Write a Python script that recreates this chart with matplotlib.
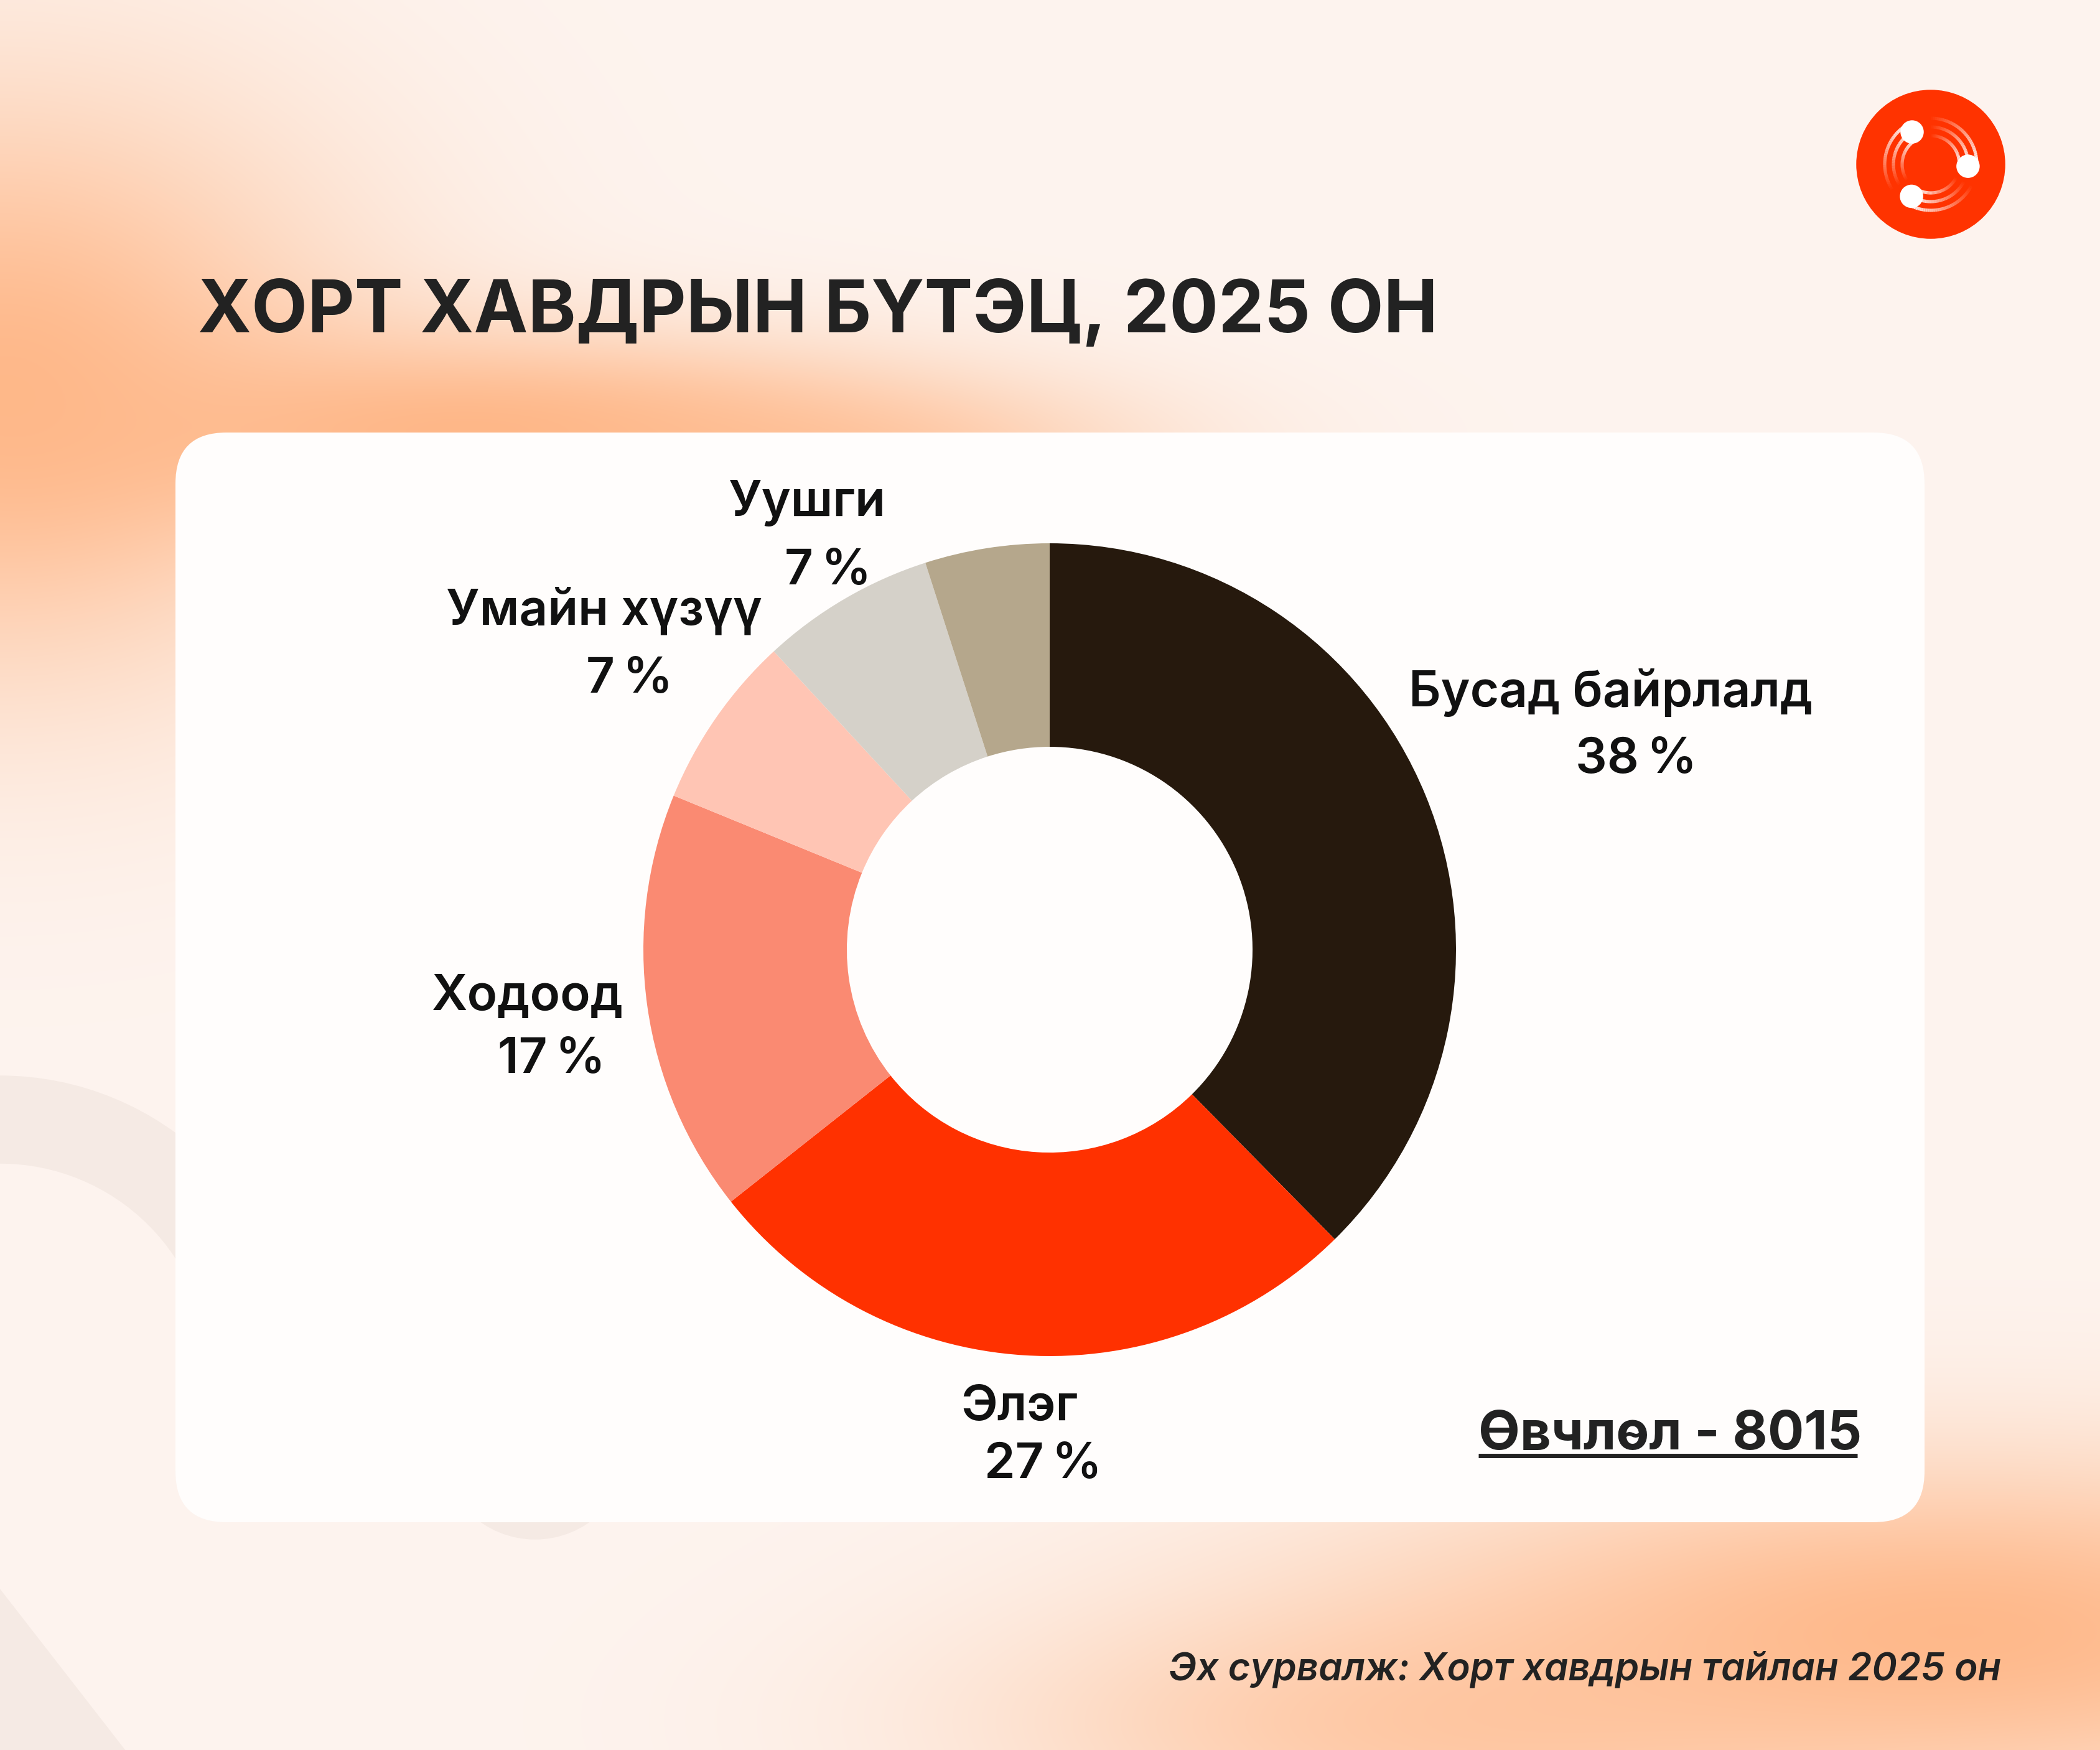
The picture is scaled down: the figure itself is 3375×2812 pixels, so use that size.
import numpy as np
import matplotlib.pyplot as plt
from matplotlib.patches import FancyBboxPatch, Circle, Polygon, Wedge
from matplotlib.collections import LineCollection

plt.rcParams['font.family'] = ['Inter', 'DejaVu Sans']

# canvas in pixels (top-left origin for layout numbers)
W, H = 3375, 2812
DPI = 250

# data
categories = ["Бусад байрлалд", "Элэг", "Ходоод", "Умайн хүзүү", "Уушги", ""]
shares = [38, 27, 17, 7, 7, 5]
colors = ["#26190d", "#ff3100", "#fa8a72", "#ffc5b4", "#d5d1c9", "#b5a78c"]
title = "ХОРТ ХАВДРЫН БҮТЭЦ, 2025 ОН"
total_text = "Өвчлөл - 8015"
source_text = "Эх сурвалж: Хорт хавдрын тайлан 2025 он"

# label layout: (name x, name baseline, pct x, pct baseline)
label_xy = [(2589, 1135, 2630, 1242),
            (1638, 2282, 1677, 2375),
            (848, 1623, 887, 1724),
            (971, 1003, 1012, 1113),
            (1297, 829, 1331, 939),
            None]


def fy(y):
    # top-left pixel y -> axes y
    return H - y


fig = plt.figure(figsize=(W / DPI, H / DPI), dpi=DPI)
ax = fig.add_axes([0, 0, 1, 1])

# soft peach background with orange glows
ys, xs = np.mgrid[0:H:6, 0:W:6].astype(float)
blobs = [(0, 620, 560, 480, 0.95),
         (750, 690, 750, 160, 0.97),
         (1300, 720, 500, 110, 0.6),
         (3150, 2620, 950, 280, 0.95),
         (2300, 2780, 700, 200, 0.6)]
keep = np.ones_like(xs)
for cx, cy, rx, ry, a in blobs:
    g = np.exp(-((xs - cx) / rx) ** 2 - ((ys - cy) / ry) ** 2)
    keep *= 1 - a * g
t = 1 - keep
base = np.array([0xfd, 0xf4, 0xef]) / 255
orange = np.array([0xff, 0xb6, 0x86]) / 255
img = base[None, None, :] * (1 - t[..., None]) + orange[None, None, :] * t[..., None]
ax.imshow(img, extent=(0, W, 0, H), origin='upper', interpolation='bilinear',
          aspect='auto', zorder=0)

# faint decorative shapes
faint = "#f5eae4"
ax.add_patch(Wedge((0, fy(2207)), 477, 0, 90, width=138, color=faint, zorder=1))
ax.add_patch(Circle((860, fy(2322)), 150, color=faint, zorder=1))
ax.add_patch(Polygon([(0, fy(2556)), (199, fy(2812)), (0, fy(2812))], color=faint, zorder=1))

# white card
card = FancyBboxPatch((282, fy(2446)), 3093 - 282, 2446 - 695,
                      boxstyle="round,pad=0,rounding_size=82",
                      fc="#fffdfc", ec="none", zorder=2)
ax.add_patch(card)

# donut
wedges, _ = ax.pie(shares, colors=colors, startangle=90, counterclock=False,
                   center=(1687, fy(1526)), radius=653,
                   wedgeprops=dict(width=327, edgecolor='none'))
for w in wedges:
    w.set_zorder(3)

for name, share, pos in zip(categories, shares, label_xy):
    if pos is None:
        continue
    nx, ny, px, py = pos
    ax.text(nx, fy(ny), name, fontsize=23, fontweight='semibold', color='#111111',
            ha='center', va='baseline', zorder=4)
    ax.text(px, fy(py), f"{share}\u2009%", fontsize=23, fontweight='semibold',
            color='#111111', ha='center', va='baseline', zorder=4)

# title, total, source
ax.text(318, fy(534), title, fontsize=33.6, fontweight='bold', color='#222222',
        ha='left', va='baseline', zorder=4)
ax.text(2376, fy(2329), total_text, fontsize=25, fontweight='bold', color='#222222',
        ha='left', va='baseline', zorder=4)
ax.plot([2376, 2985], [fy(2339), fy(2339)], color='#222222', lw=2.0,
        solid_capstyle='butt', zorder=4)
ax.text(3216, fy(2699), source_text, fontsize=17.7, style='italic', fontweight='semibold',
        color='#222222', ha='right', va='baseline', zorder=4)

# logo
lc, lr = (3103, fy(264)), 118
ax.add_patch(Circle(lc, lr, color='#ff3300', zorder=4))
for ang in [120, -3, 239]:
    for rad in [46, 60, 74]:
        th = np.radians(np.linspace(ang, ang + 95, 40))
        pts = np.column_stack([lc[0] + rad * np.cos(th), lc[1] + rad * np.sin(th)])
        segs = np.stack([pts[:-1], pts[1:]], axis=1)
        alph = np.linspace(1, 0, len(segs))
        cols = np.column_stack([np.ones((len(segs), 3)), alph])
        ax.add_collection(LineCollection(segs, colors=cols, linewidths=1.5, zorder=5))
    dx = lc[0] + 60 * np.cos(np.radians(ang))
    dy = lc[1] + 60 * np.sin(np.radians(ang))
    ax.add_patch(Circle((dx, dy), 17, color='white', zorder=6))

ax.set_xlim(0, W)
ax.set_ylim(0, H)
ax.set_aspect('auto')
ax.axis('off')

fig.savefig("out.png", dpi=DPI)
